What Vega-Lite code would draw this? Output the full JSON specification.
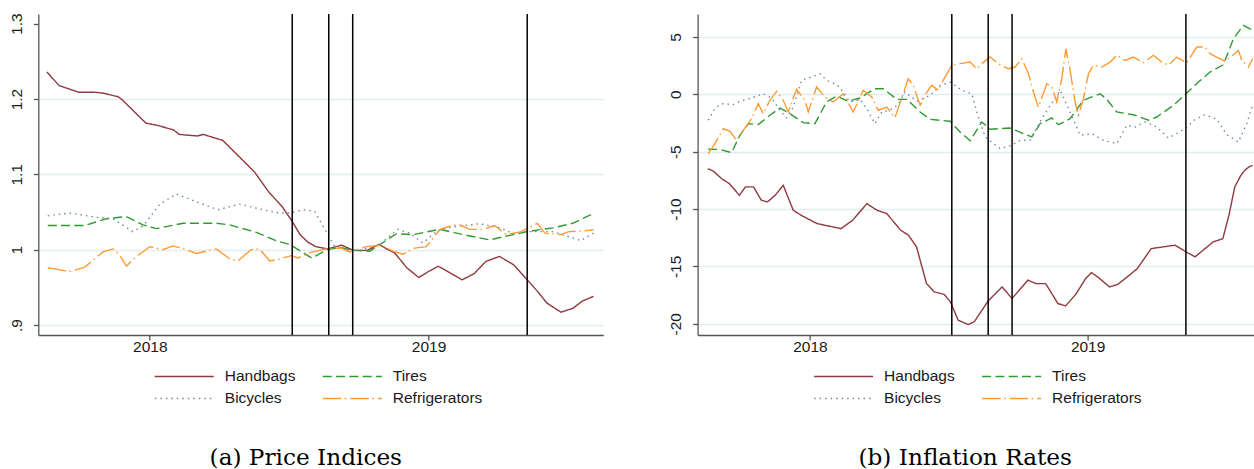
{
  "$schema": "https://vega.github.io/schema/vega-lite/v6.json",
  "background": "white",
  "padding": {"left": 9.3, "top": 12, "right": 0, "bottom": 0},
  "spacing": 65.3,
  "config": {
    "view": {"stroke": null},
    "axis": {
      "domainColor": "#555555", "domainWidth": 1.3, "tickColor": "#555555", "tickWidth": 1.3, "tickSize": 5,
      "labelFont": "Liberation Sans", "labelFontSize": 15.5, "labelColor": "#1a1a1a", "title": null
    },
    "legend": {
      "orient": "none", "title": null, "columns": 2, "symbolType": "stroke", "symbolSize": 3481, "symbolStrokeWidth": 1.4,
      "clipHeight": 16, "rowPadding": 5.3, "columnPadding": 26, "labelOffset": 10, "padding": 0,
      "labelFont": "Liberation Sans", "labelFontSize": 15.5, "labelColor": "#1a1a1a"
    },
    "title": {"font": "DejaVu Serif", "fontSize": 23.2, "fontWeight": "normal", "color": "#000000", "orient": "bottom", "anchor": "middle"}
  },
  "datasets": {
    "events": [{"year": 2018.511}, {"year": 2018.642}, {"year": 2018.728}, {"year": 2019.354}],
    "prices": [
      {"series":"Handbags","year":2017.631,"value":1.236},{"series":"Handbags","year":2017.674,"value":1.218},{"series":"Handbags","year":2017.745,"value":1.209},{"series":"Handbags","year":2017.802,"value":1.209},{"series":"Handbags","year":2017.83,"value":1.208},{"series":"Handbags","year":2017.887,"value":1.203},{"series":"Handbags","year":2017.901,"value":1.199},{"series":"Handbags","year":2017.986,"value":1.168},{"series":"Handbags","year":2018.028,"value":1.165},{"series":"Handbags","year":2018.085,"value":1.159},{"series":"Handbags","year":2018.106,"value":1.153},{"series":"Handbags","year":2018.17,"value":1.151},{"series":"Handbags","year":2018.192,"value":1.153},{"series":"Handbags","year":2018.262,"value":1.145},{"series":"Handbags","year":2018.326,"value":1.1215},{"series":"Handbags","year":2018.376,"value":1.103},{"series":"Handbags","year":2018.426,"value":1.077},{"series":"Handbags","year":2018.475,"value":1.057},{"series":"Handbags","year":2018.511,"value":1.0375},{"series":"Handbags","year":2018.539,"value":1.02},{"series":"Handbags","year":2018.567,"value":1.01},{"series":"Handbags","year":2018.596,"value":1.004},{"series":"Handbags","year":2018.638,"value":1.001},{"series":"Handbags","year":2018.688,"value":1.006},{"series":"Handbags","year":2018.731,"value":0.999},{"series":"Handbags","year":2018.78,"value":0.999},{"series":"Handbags","year":2018.822,"value":1.007},{"series":"Handbags","year":2018.88,"value":0.995},{"series":"Handbags","year":2018.922,"value":0.976},{"series":"Handbags","year":2018.965,"value":0.963},{"series":"Handbags","year":2019.0,"value":0.971},{"series":"Handbags","year":2019.035,"value":0.978},{"series":"Handbags","year":2019.078,"value":0.969},{"series":"Handbags","year":2019.121,"value":0.96},{"series":"Handbags","year":2019.163,"value":0.968},{"series":"Handbags","year":2019.206,"value":0.9845},{"series":"Handbags","year":2019.255,"value":0.991},{"series":"Handbags","year":2019.305,"value":0.98},{"series":"Handbags","year":2019.354,"value":0.96},{"series":"Handbags","year":2019.39,"value":0.945},{"series":"Handbags","year":2019.425,"value":0.929},{"series":"Handbags","year":2019.475,"value":0.917},{"series":"Handbags","year":2019.517,"value":0.922},{"series":"Handbags","year":2019.553,"value":0.932},{"series":"Handbags","year":2019.592,"value":0.938},
      {"series":"Tires","year":2017.634,"value":1.032},{"series":"Tires","year":2017.766,"value":1.032},{"series":"Tires","year":2017.844,"value":1.041},{"series":"Tires","year":2017.916,"value":1.044},{"series":"Tires","year":2017.975,"value":1.033},{"series":"Tires","year":2018.023,"value":1.028},{"series":"Tires","year":2018.119,"value":1.035},{"series":"Tires","year":2018.239,"value":1.035},{"series":"Tires","year":2018.286,"value":1.033},{"series":"Tires","year":2018.382,"value":1.023},{"series":"Tires","year":2018.46,"value":1.011},{"series":"Tires","year":2018.502,"value":1.007},{"series":"Tires","year":2018.58,"value":0.989},{"series":"Tires","year":2018.639,"value":1.0},{"series":"Tires","year":2018.681,"value":1.003},{"series":"Tires","year":2018.729,"value":0.999},{"series":"Tires","year":2018.789,"value":0.998},{"series":"Tires","year":2018.884,"value":1.021},{"series":"Tires","year":2018.944,"value":1.02},{"series":"Tires","year":2019.04,"value":1.027},{"series":"Tires","year":2019.112,"value":1.021},{"series":"Tires","year":2019.219,"value":1.013},{"series":"Tires","year":2019.291,"value":1.019},{"series":"Tires","year":2019.354,"value":1.024},{"series":"Tires","year":2019.447,"value":1.029},{"series":"Tires","year":2019.517,"value":1.035},{"series":"Tires","year":2019.592,"value":1.048},
      {"series":"Bicycles","year":2017.634,"value":1.045},{"series":"Bicycles","year":2017.712,"value":1.0486},{"series":"Bicycles","year":2017.808,"value":1.043},{"series":"Bicycles","year":2017.868,"value":1.041},{"series":"Bicycles","year":2017.939,"value":1.024},{"series":"Bicycles","year":2017.975,"value":1.031},{"series":"Bicycles","year":2018.035,"value":1.06},{"series":"Bicycles","year":2018.095,"value":1.074},{"series":"Bicycles","year":2018.179,"value":1.062},{"series":"Bicycles","year":2018.244,"value":1.053},{"series":"Bicycles","year":2018.322,"value":1.0605},{"series":"Bicycles","year":2018.406,"value":1.053},{"series":"Bicycles","year":2018.466,"value":1.0486},{"series":"Bicycles","year":2018.502,"value":1.0486},{"series":"Bicycles","year":2018.549,"value":1.053},{"series":"Bicycles","year":2018.591,"value":1.051},{"series":"Bicycles","year":2018.639,"value":1.02},{"series":"Bicycles","year":2018.663,"value":1.004},{"series":"Bicycles","year":2018.705,"value":1.0},{"series":"Bicycles","year":2018.753,"value":0.999},{"series":"Bicycles","year":2018.825,"value":1.007},{"series":"Bicycles","year":2018.89,"value":1.027},{"series":"Bicycles","year":2018.932,"value":1.022},{"series":"Bicycles","year":2018.98,"value":1.009},{"series":"Bicycles","year":2019.028,"value":1.024},{"series":"Bicycles","year":2019.064,"value":1.029},{"series":"Bicycles","year":2019.183,"value":1.0345},{"series":"Bicycles","year":2019.255,"value":1.029},{"series":"Bicycles","year":2019.309,"value":1.021},{"series":"Bicycles","year":2019.347,"value":1.024},{"series":"Bicycles","year":2019.447,"value":1.024},{"series":"Bicycles","year":2019.546,"value":1.012},{"series":"Bicycles","year":2019.592,"value":1.022},
      {"series":"Refrigerators","year":2017.634,"value":0.976},{"series":"Refrigerators","year":2017.712,"value":0.971},{"series":"Refrigerators","year":2017.766,"value":0.9765},{"series":"Refrigerators","year":2017.832,"value":0.997},{"series":"Refrigerators","year":2017.868,"value":1.001},{"series":"Refrigerators","year":2017.892,"value":0.993},{"series":"Refrigerators","year":2017.916,"value":0.978},{"series":"Refrigerators","year":2017.952,"value":0.991},{"series":"Refrigerators","year":2018.0,"value":1.004},{"series":"Refrigerators","year":2018.047,"value":1.0},{"series":"Refrigerators","year":2018.083,"value":1.005},{"series":"Refrigerators","year":2018.125,"value":1.001},{"series":"Refrigerators","year":2018.167,"value":0.995},{"series":"Refrigerators","year":2018.239,"value":1.001},{"series":"Refrigerators","year":2018.286,"value":0.988},{"series":"Refrigerators","year":2018.316,"value":0.985},{"series":"Refrigerators","year":2018.364,"value":1.0},{"series":"Refrigerators","year":2018.394,"value":1.001},{"series":"Refrigerators","year":2018.43,"value":0.985},{"series":"Refrigerators","year":2018.46,"value":0.987},{"series":"Refrigerators","year":2018.508,"value":0.992},{"series":"Refrigerators","year":2018.531,"value":0.989},{"series":"Refrigerators","year":2018.573,"value":0.996},{"series":"Refrigerators","year":2018.633,"value":1.001},{"series":"Refrigerators","year":2018.687,"value":1.002},{"series":"Refrigerators","year":2018.717,"value":0.997},{"series":"Refrigerators","year":2018.777,"value":1.004},{"series":"Refrigerators","year":2018.831,"value":1.006},{"series":"Refrigerators","year":2018.872,"value":0.998},{"series":"Refrigerators","year":2018.908,"value":0.994},{"series":"Refrigerators","year":2018.95,"value":1.002},{"series":"Refrigerators","year":2018.992,"value":1.004},{"series":"Refrigerators","year":2019.04,"value":1.0265},{"series":"Refrigerators","year":2019.082,"value":1.032},{"series":"Refrigerators","year":2019.112,"value":1.033},{"series":"Refrigerators","year":2019.147,"value":1.027},{"series":"Refrigerators","year":2019.195,"value":1.027},{"series":"Refrigerators","year":2019.237,"value":1.032},{"series":"Refrigerators","year":2019.279,"value":1.02},{"series":"Refrigerators","year":2019.333,"value":1.024},{"series":"Refrigerators","year":2019.39,"value":1.035},{"series":"Refrigerators","year":2019.418,"value":1.022},{"series":"Refrigerators","year":2019.475,"value":1.02},{"series":"Refrigerators","year":2019.503,"value":1.024},{"series":"Refrigerators","year":2019.56,"value":1.025},{"series":"Refrigerators","year":2019.592,"value":1.0265}
    ],
    "inflation": [
      {"series":"Handbags","year":2017.632,"value":-6.48},{"series":"Handbags","year":2017.653,"value":-6.71},{"series":"Handbags","year":2017.682,"value":-7.35},{"series":"Handbags","year":2017.71,"value":-7.79},{"series":"Handbags","year":2017.746,"value":-8.8},{"series":"Handbags","year":2017.768,"value":-8.07},{"series":"Handbags","year":2017.797,"value":-8.07},{"series":"Handbags","year":2017.825,"value":-9.23},{"series":"Handbags","year":2017.847,"value":-9.38},{"series":"Handbags","year":2017.875,"value":-8.8},{"series":"Handbags","year":2017.904,"value":-7.93},{"series":"Handbags","year":2017.94,"value":-10.1},{"series":"Handbags","year":2017.968,"value":-10.54},{"series":"Handbags","year":2018.026,"value":-11.27},{"series":"Handbags","year":2018.083,"value":-11.56},{"series":"Handbags","year":2018.112,"value":-11.71},{"series":"Handbags","year":2018.154,"value":-10.98},{"series":"Handbags","year":2018.205,"value":-9.53},{"series":"Handbags","year":2018.241,"value":-10.1},{"series":"Handbags","year":2018.277,"value":-10.4},{"series":"Handbags","year":2018.327,"value":-11.85},{"series":"Handbags","year":2018.355,"value":-12.28},{"series":"Handbags","year":2018.384,"value":-13.3},{"series":"Handbags","year":2018.42,"value":-16.5},{"series":"Handbags","year":2018.448,"value":-17.22},{"series":"Handbags","year":2018.484,"value":-17.45},{"series":"Handbags","year":2018.506,"value":-18.09},{"series":"Handbags","year":2018.534,"value":-19.69},{"series":"Handbags","year":2018.57,"value":-20.07},{"series":"Handbags","year":2018.592,"value":-19.83},{"series":"Handbags","year":2018.62,"value":-18.81},{"series":"Handbags","year":2018.642,"value":-18.01},{"series":"Handbags","year":2018.692,"value":-16.79},{"series":"Handbags","year":2018.728,"value":-17.8},{"series":"Handbags","year":2018.785,"value":-16.2},{"series":"Handbags","year":2018.814,"value":-16.5},{"series":"Handbags","year":2018.849,"value":-16.5},{"series":"Handbags","year":2018.893,"value":-18.24},{"series":"Handbags","year":2018.921,"value":-18.44},{"series":"Handbags","year":2018.957,"value":-17.45},{"series":"Handbags","year":2018.993,"value":-16.06},{"series":"Handbags","year":2019.014,"value":-15.54},{"series":"Handbags","year":2019.036,"value":-15.91},{"series":"Handbags","year":2019.079,"value":-16.79},{"series":"Handbags","year":2019.108,"value":-16.58},{"series":"Handbags","year":2019.143,"value":-15.91},{"series":"Handbags","year":2019.179,"value":-15.19},{"series":"Handbags","year":2019.229,"value":-13.45},{"series":"Handbags","year":2019.272,"value":-13.3},{"series":"Handbags","year":2019.315,"value":-13.15},{"series":"Handbags","year":2019.355,"value":-13.74},{"series":"Handbags","year":2019.387,"value":-14.17},{"series":"Handbags","year":2019.416,"value":-13.59},{"series":"Handbags","year":2019.452,"value":-12.87},{"series":"Handbags","year":2019.487,"value":-12.58},{"series":"Handbags","year":2019.509,"value":-10.54},{"series":"Handbags","year":2019.53,"value":-8.07},{"series":"Handbags","year":2019.552,"value":-7.06},{"series":"Handbags","year":2019.566,"value":-6.62},{"series":"Handbags","year":2019.581,"value":-6.33},{"series":"Handbags","year":2019.594,"value":-6.2},
      {"series":"Tires","year":2017.634,"value":-4.79},{"series":"Tires","year":2017.676,"value":-4.8},{"series":"Tires","year":2017.718,"value":-5.08},{"series":"Tires","year":2017.748,"value":-3.57},{"series":"Tires","year":2017.778,"value":-2.56},{"series":"Tires","year":2017.814,"value":-2.64},{"series":"Tires","year":2017.856,"value":-1.83},{"series":"Tires","year":2017.892,"value":-1.19},{"series":"Tires","year":2017.928,"value":-1.69},{"series":"Tires","year":2017.976,"value":-2.47},{"series":"Tires","year":2018.018,"value":-2.56},{"series":"Tires","year":2018.06,"value":-0.67},{"series":"Tires","year":2018.097,"value":-0.15},{"series":"Tires","year":2018.138,"value":-0.61},{"series":"Tires","year":2018.18,"value":-0.32},{"series":"Tires","year":2018.234,"value":0.49},{"series":"Tires","year":2018.264,"value":0.49},{"series":"Tires","year":2018.313,"value":-0.44},{"series":"Tires","year":2018.349,"value":-0.44},{"series":"Tires","year":2018.397,"value":-1.54},{"series":"Tires","year":2018.433,"value":-2.18},{"series":"Tires","year":2018.505,"value":-2.35},{"series":"Tires","year":2018.541,"value":-3.28},{"series":"Tires","year":2018.577,"value":-4.05},{"series":"Tires","year":2018.619,"value":-2.41},{"series":"Tires","year":2018.649,"value":-3.05},{"series":"Tires","year":2018.721,"value":-2.94},{"series":"Tires","year":2018.769,"value":-3.43},{"series":"Tires","year":2018.799,"value":-3.72},{"series":"Tires","year":2018.829,"value":-2.56},{"series":"Tires","year":2018.871,"value":-2.06},{"series":"Tires","year":2018.895,"value":-2.65},{"series":"Tires","year":2018.937,"value":-2.12},{"series":"Tires","year":2018.985,"value":-0.52},{"series":"Tires","year":2019.045,"value":0.05},{"series":"Tires","year":2019.069,"value":-0.44},{"series":"Tires","year":2019.105,"value":-1.54},{"series":"Tires","year":2019.165,"value":-1.78},{"series":"Tires","year":2019.219,"value":-2.26},{"series":"Tires","year":2019.249,"value":-1.98},{"series":"Tires","year":2019.309,"value":-0.96},{"series":"Tires","year":2019.357,"value":0.11},{"series":"Tires","year":2019.399,"value":1.07},{"series":"Tires","year":2019.441,"value":1.94},{"series":"Tires","year":2019.489,"value":2.58},{"series":"Tires","year":2019.525,"value":4.84},{"series":"Tires","year":2019.561,"value":6.01},{"series":"Tires","year":2019.594,"value":5.6},
      {"series":"Bicycles","year":2017.634,"value":-2.26},{"series":"Bicycles","year":2017.658,"value":-1.25},{"series":"Bicycles","year":2017.682,"value":-0.82},{"series":"Bicycles","year":2017.724,"value":-0.9},{"series":"Bicycles","year":2017.748,"value":-0.61},{"series":"Bicycles","year":2017.79,"value":-0.32},{"series":"Bicycles","year":2017.832,"value":0.05},{"series":"Bicycles","year":2017.862,"value":-0.32},{"series":"Bicycles","year":2017.892,"value":-1.39},{"series":"Bicycles","year":2017.916,"value":-2.06},{"series":"Bicycles","year":2017.94,"value":-1.11},{"series":"Bicycles","year":2017.97,"value":1.22},{"series":"Bicycles","year":2018.006,"value":1.51},{"series":"Bicycles","year":2018.036,"value":1.79},{"series":"Bicycles","year":2018.06,"value":1.22},{"series":"Bicycles","year":2018.097,"value":0.84},{"series":"Bicycles","year":2018.12,"value":0.2},{"series":"Bicycles","year":2018.144,"value":-0.67},{"series":"Bicycles","year":2018.18,"value":-0.44},{"series":"Bicycles","year":2018.205,"value":-1.25},{"series":"Bicycles","year":2018.234,"value":-2.56},{"series":"Bicycles","year":2018.259,"value":-1.54},{"series":"Bicycles","year":2018.288,"value":-1.39},{"series":"Bicycles","year":2018.318,"value":-0.9},{"series":"Bicycles","year":2018.342,"value":0.2},{"series":"Bicycles","year":2018.385,"value":-0.61},{"series":"Bicycles","year":2018.433,"value":-0.09},{"series":"Bicycles","year":2018.468,"value":0.72},{"series":"Bicycles","year":2018.505,"value":1.07},{"series":"Bicycles","year":2018.547,"value":0.35},{"series":"Bicycles","year":2018.583,"value":0.05},{"series":"Bicycles","year":2018.601,"value":-1.54},{"series":"Bicycles","year":2018.631,"value":-3.72},{"series":"Bicycles","year":2018.685,"value":-4.74},{"series":"Bicycles","year":2018.727,"value":-4.44},{"series":"Bicycles","year":2018.757,"value":-4.01},{"series":"Bicycles","year":2018.793,"value":-4.01},{"series":"Bicycles","year":2018.835,"value":-2.12},{"series":"Bicycles","year":2018.901,"value":0.35},{"series":"Bicycles","year":2018.937,"value":-1.54},{"series":"Bicycles","year":2018.973,"value":-3.57},{"series":"Bicycles","year":2019.015,"value":-3.43},{"series":"Bicycles","year":2019.057,"value":-4.01},{"series":"Bicycles","year":2019.105,"value":-4.3},{"series":"Bicycles","year":2019.141,"value":-2.7},{"series":"Bicycles","year":2019.171,"value":-2.85},{"series":"Bicycles","year":2019.207,"value":-2.41},{"series":"Bicycles","year":2019.249,"value":-2.85},{"series":"Bicycles","year":2019.291,"value":-3.81},{"series":"Bicycles","year":2019.327,"value":-3.34},{"series":"Bicycles","year":2019.357,"value":-2.85},{"series":"Bicycles","year":2019.387,"value":-2.18},{"series":"Bicycles","year":2019.423,"value":-1.78},{"series":"Bicycles","year":2019.465,"value":-2.18},{"series":"Bicycles","year":2019.501,"value":-3.52},{"series":"Bicycles","year":2019.543,"value":-4.16},{"series":"Bicycles","year":2019.573,"value":-2.56},{"series":"Bicycles","year":2019.594,"value":-0.96},
      {"series":"Refrigerators","year":2017.634,"value":-5.17},{"series":"Refrigerators","year":2017.658,"value":-4.3},{"series":"Refrigerators","year":2017.688,"value":-3.0},{"series":"Refrigerators","year":2017.712,"value":-3.22},{"series":"Refrigerators","year":2017.736,"value":-4.01},{"series":"Refrigerators","year":2017.76,"value":-3.14},{"series":"Refrigerators","year":2017.79,"value":-2.12},{"series":"Refrigerators","year":2017.814,"value":-0.82},{"series":"Refrigerators","year":2017.832,"value":-1.69},{"series":"Refrigerators","year":2017.856,"value":-0.52},{"series":"Refrigerators","year":2017.88,"value":0.26},{"series":"Refrigerators","year":2017.904,"value":-0.52},{"series":"Refrigerators","year":2017.922,"value":-1.54},{"series":"Refrigerators","year":2017.952,"value":0.44},{"series":"Refrigerators","year":2017.982,"value":-0.52},{"series":"Refrigerators","year":2017.994,"value":-1.54},{"series":"Refrigerators","year":2018.024,"value":0.64},{"series":"Refrigerators","year":2018.054,"value":-0.24},{"series":"Refrigerators","year":2018.084,"value":-0.67},{"series":"Refrigerators","year":2018.12,"value":0.05},{"series":"Refrigerators","year":2018.156,"value":-1.54},{"series":"Refrigerators","year":2018.192,"value":0.35},{"series":"Refrigerators","year":2018.223,"value":-0.24},{"series":"Refrigerators","year":2018.246,"value":-1.39},{"series":"Refrigerators","year":2018.277,"value":-1.11},{"series":"Refrigerators","year":2018.306,"value":-2.06},{"series":"Refrigerators","year":2018.336,"value":0.05},{"series":"Refrigerators","year":2018.354,"value":1.36},{"series":"Refrigerators","year":2018.372,"value":0.78},{"series":"Refrigerators","year":2018.397,"value":-0.96},{"series":"Refrigerators","year":2018.421,"value":0.2},{"series":"Refrigerators","year":2018.439,"value":0.78},{"series":"Refrigerators","year":2018.462,"value":0.35},{"series":"Refrigerators","year":2018.48,"value":1.22},{"series":"Refrigerators","year":2018.511,"value":2.53},{"series":"Refrigerators","year":2018.541,"value":2.67},{"series":"Refrigerators","year":2018.577,"value":2.81},{"series":"Refrigerators","year":2018.601,"value":2.23},{"series":"Refrigerators","year":2018.619,"value":2.67},{"series":"Refrigerators","year":2018.649,"value":3.25},{"series":"Refrigerators","year":2018.678,"value":2.67},{"series":"Refrigerators","year":2018.714,"value":2.23},{"series":"Refrigerators","year":2018.739,"value":2.38},{"series":"Refrigerators","year":2018.763,"value":3.1},{"series":"Refrigerators","year":2018.787,"value":1.79},{"series":"Refrigerators","year":2018.805,"value":0.2},{"series":"Refrigerators","year":2018.823,"value":-1.11},{"series":"Refrigerators","year":2018.853,"value":0.92},{"series":"Refrigerators","year":2018.871,"value":0.64},{"series":"Refrigerators","year":2018.889,"value":-0.67},{"series":"Refrigerators","year":2018.907,"value":1.36},{"series":"Refrigerators","year":2018.922,"value":3.97},{"series":"Refrigerators","year":2018.937,"value":2.09},{"series":"Refrigerators","year":2018.955,"value":-0.67},{"series":"Refrigerators","year":2018.967,"value":-1.83},{"series":"Refrigerators","year":2018.985,"value":-0.38},{"series":"Refrigerators","year":2019.003,"value":1.79},{"series":"Refrigerators","year":2019.021,"value":2.53},{"series":"Refrigerators","year":2019.051,"value":2.38},{"series":"Refrigerators","year":2019.081,"value":2.81},{"series":"Refrigerators","year":2019.105,"value":3.4},{"series":"Refrigerators","year":2019.135,"value":2.96},{"series":"Refrigerators","year":2019.165,"value":3.25},{"series":"Refrigerators","year":2019.201,"value":2.75},{"series":"Refrigerators","year":2019.237,"value":3.4},{"series":"Refrigerators","year":2019.267,"value":2.81},{"series":"Refrigerators","year":2019.291,"value":2.53},{"series":"Refrigerators","year":2019.321,"value":3.25},{"series":"Refrigerators","year":2019.357,"value":2.75},{"series":"Refrigerators","year":2019.393,"value":4.12},{"series":"Refrigerators","year":2019.423,"value":4.12},{"series":"Refrigerators","year":2019.441,"value":3.54},{"series":"Refrigerators","year":2019.465,"value":3.25},{"series":"Refrigerators","year":2019.495,"value":2.87},{"series":"Refrigerators","year":2019.525,"value":3.45},{"series":"Refrigerators","year":2019.543,"value":3.83},{"series":"Refrigerators","year":2019.555,"value":2.96},{"series":"Refrigerators","year":2019.579,"value":2.38},{"series":"Refrigerators","year":2019.594,"value":3.1}
    ]
  },
  "resolve": {
    "scale": {"x": "independent", "y": "independent", "color": "independent", "strokeDash": "independent"},
    "legend": {"color": "independent", "strokeDash": "independent"}
  },
  "hconcat": [
    {
      "width": 565,
      "height": 321,
      "title": {"text": "(a) Price Indices", "offset": 40, "dx": -15},
      "layer": [
        {
          "data": {"name": "prices"},
          "mark": {"type": "line", "strokeWidth": 1.4, "clip": true},
          "encoding": {
            "x": {"field": "year", "type": "quantitative",
              "scale": {"domain": [2017.6, 2019.627], "nice": false, "zero": false},
              "axis": {"values": [2018, 2019], "labelExpr": "'' + datum.value", "grid": false, "labelPadding": -0.5}},
            "y": {"field": "value", "type": "quantitative",
              "scale": {"domain": [0.8867, 1.3129], "nice": false, "zero": false},
              "axis": {"values": [0.9, 1, 1.1, 1.2, 1.3], "labelAngle": -90, "labelPadding": 9,
                "labelExpr": "datum.value == 0.9 ? '.9' : datum.value == 1 ? '1' : format(datum.value, '.1f')",
                "grid": true, "gridColor": "#e3edf0", "gridWidth": 1.3,
                "gridOpacity": {"condition": {"test": "datum.value > 1.25", "value": 0}, "value": 1}}},
            "color": {"field": "series", "type": "nominal",
              "scale": {"domain": ["Handbags", "Bicycles", "Tires", "Refrigerators"], "range": ["#8f3a3e", "#7189a3", "#2e9a30", "#ff9a33"]},
              "legend": {"legendX": 115.5, "legendY": 354.2}},
            "strokeDash": {"field": "series", "type": "nominal",
              "scale": {"domain": ["Handbags", "Bicycles", "Tires", "Refrigerators"], "range": [[1, 0], [1.5, 4], [9, 4.3], [18.5, 3.5, 1.5, 4]]},
              "legend": {"legendX": 115.5, "legendY": 354.2}}
          }
        },
        {
          "data": {"name": "events"},
          "mark": {"type": "rule", "color": "#000000", "strokeWidth": 1.5},
          "encoding": {"x": {"field": "year", "type": "quantitative"}}
        }
      ]
    },
    {
      "width": 556.4,
      "height": 321,
      "title": {"text": "(b) Inflation Rates", "offset": 40, "dx": -10.6},
      "layer": [
        {
          "data": {"name": "inflation"},
          "mark": {"type": "line", "strokeWidth": 1.4, "clip": true},
          "encoding": {
            "x": {"field": "year", "type": "quantitative",
              "scale": {"domain": [2017.5956, 2019.5992], "nice": false, "zero": false},
              "axis": {"values": [2018, 2019], "labelExpr": "'' + datum.value", "grid": false, "labelPadding": -0.5}},
            "y": {"field": "value", "type": "quantitative",
              "scale": {"domain": [-20.98, 7.0], "nice": false, "zero": false},
              "axis": {"values": [-20, -15, -10, -5, 0, 5], "labelAngle": -90, "labelPadding": 9,
                "labelExpr": "'' + datum.value",
                "grid": true, "gridColor": "#e3edf0", "gridWidth": 1.3}},
            "color": {"field": "series", "type": "nominal",
              "scale": {"domain": ["Handbags", "Bicycles", "Tires", "Refrigerators"], "range": ["#8f3a3e", "#7189a3", "#2e9a30", "#ff9a33"]},
              "legend": {"legendX": 115.5, "legendY": 354.2}},
            "strokeDash": {"field": "series", "type": "nominal",
              "scale": {"domain": ["Handbags", "Bicycles", "Tires", "Refrigerators"], "range": [[1, 0], [1.5, 4], [9, 4.3], [18.5, 3.5, 1.5, 4]]},
              "legend": {"legendX": 115.5, "legendY": 354.2}}
          }
        },
        {
          "data": {"name": "events"},
          "mark": {"type": "rule", "color": "#000000", "strokeWidth": 1.5},
          "encoding": {"x": {"field": "year", "type": "quantitative"}}
        }
      ]
    }
  ]
}
